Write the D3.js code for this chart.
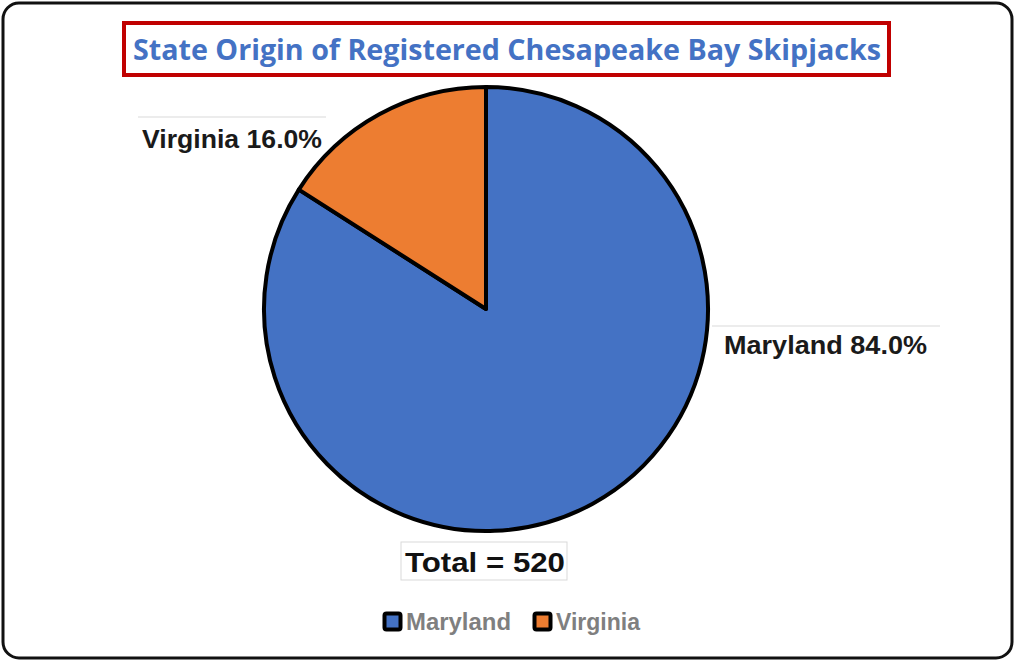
<!DOCTYPE html>
<html>
<head>
<meta charset="utf-8">
<script src="https://cdn.jsdelivr.net/npm/d3@7"></script>
<style>
  body { margin: 0; background: #fff; }
  svg { display: block; }
</style>
</head>
<body>
<svg id="chart" width="1015" height="661"></svg>
<script>
const title = 'State Origin of Registered Chesapeake Bay Skipjacks';
const states = ['Maryland', 'Virginia'];
const counts = [437, 83];
const colors = ['#4472C4', '#ED7D31'];
const total = 520;

const W = 1015, H = 661;
const cx = 486, cy = 309, r = 222;

const svg = d3.select('#chart');

// outer frame
svg.append('rect')
  .attr('x', 3).attr('y', 3)
  .attr('width', W - 6).attr('height', H - 6)
  .attr('rx', 16)
  .attr('fill', '#fff')
  .attr('stroke', '#111')
  .attr('stroke-width', 3);

// title with red box
svg.append('rect')
  .attr('x', 124).attr('y', 23)
  .attr('width', 765).attr('height', 52)
  .attr('fill', '#fff')
  .attr('stroke', '#C00000')
  .attr('stroke-width', 4);

svg.append('text')
  .attr('x', 507).attr('y', 60)
  .attr('text-anchor', 'middle')
  .attr('font-family', 'Open Sans, sans-serif')
  .attr('font-weight', 'bold')
  .attr('font-size', 28)
  .attr('textLength', 748)
  .attr('lengthAdjust', 'spacingAndGlyphs')
  .attr('fill', '#4472C4')
  .text(title);

const data = states.map((s, i) => ({ state: s, value: counts[i], color: colors[i] }));

const pie = d3.pie().sort(null).value(d => d.value);
const arc = d3.arc().innerRadius(0).outerRadius(r);

const g = svg.append('g').attr('transform', `translate(${cx},${cy})`);

g.selectAll('path')
  .data(pie(data))
  .join('path')
  .attr('d', arc)
  .attr('fill', d => d.data.color)
  .attr('stroke', '#000')
  .attr('stroke-width', 4)
  .attr('stroke-linejoin', 'round');

// data labels
const fmt = d3.format('.1%');
const labelPos = {
  Maryland: { x: 724, y: 354, w: 203, line: [712, 940, 326] },
  Virginia: { x: 142, y: 148, w: 180, line: [138, 326, 117] }
};

const labels = svg.append('g');
data.forEach(d => {
  const p = labelPos[d.state];
  labels.append('line')
    .attr('x1', p.line[0]).attr('x2', p.line[1])
    .attr('y1', p.line[2]).attr('y2', p.line[2])
    .attr('stroke', '#d9d9d9').attr('stroke-width', 1);
  labels.append('text')
    .attr('x', p.x).attr('y', p.y)
    .attr('font-family', 'Liberation Sans, Arial, sans-serif')
    .attr('font-weight', 'bold')
    .attr('font-size', 26)
    .attr('textLength', p.w)
    .attr('lengthAdjust', 'spacingAndGlyphs')
    .attr('fill', '#1a1a1a')
    .text(`${d.state} ${fmt(d.value / total)}`);
});

// total box
svg.append('rect')
  .attr('x', 401).attr('y', 542)
  .attr('width', 166).attr('height', 38)
  .attr('fill', '#fff')
  .attr('stroke', '#d9d9d9');
svg.append('text')
  .attr('x', 485).attr('y', 572)
  .attr('text-anchor', 'middle')
  .attr('font-family', 'Liberation Sans, Arial, sans-serif')
  .attr('font-weight', 'bold')
  .attr('font-size', 28)
  .attr('textLength', 160)
  .attr('lengthAdjust', 'spacingAndGlyphs')
  .attr('fill', '#111')
  .text(`Total = ${d3.sum(counts)}`);

// legend
const legendX = [383, 533];
const legendW = [105, 84];
const legend = svg.append('g');
data.forEach((d, i) => {
  const lg = legend.append('g').attr('transform', `translate(${legendX[i]},612)`);
  lg.append('rect')
    .attr('x', 1.5).attr('y', 1.5)
    .attr('width', 16).attr('height', 16)
    .attr('rx', 2)
    .attr('fill', d.color)
    .attr('stroke', '#000')
    .attr('stroke-width', 4);
  lg.append('text')
    .attr('x', 23).attr('y', 18)
    .attr('font-family', 'Liberation Sans, Arial, sans-serif')
    .attr('font-weight', 'bold')
    .attr('font-size', 23)
    .attr('textLength', legendW[i])
    .attr('lengthAdjust', 'spacingAndGlyphs')
    .attr('fill', '#7f7f7f')
    .text(d.state);
});
</script>
</body>
</html>
